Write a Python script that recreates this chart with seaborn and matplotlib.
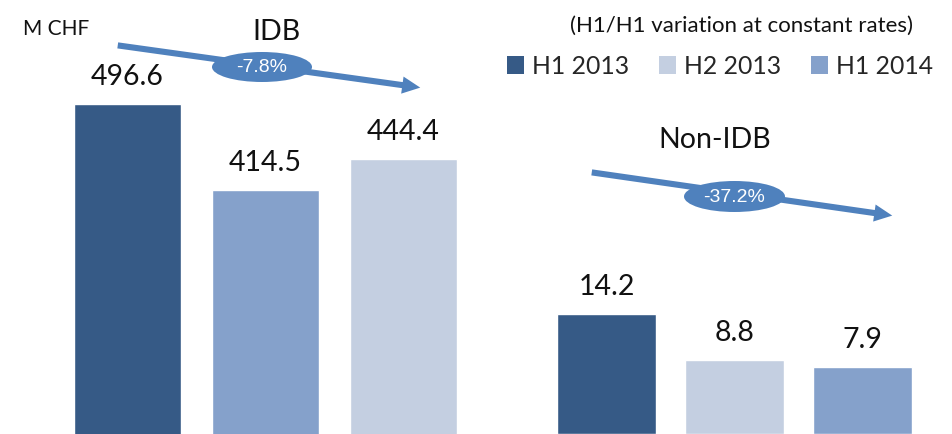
import matplotlib
matplotlib.use("Agg")
import matplotlib.pyplot as plt
from matplotlib.patches import Patch, Ellipse, FancyArrowPatch
import seaborn as sns
import pandas as pd

# ---- data -------------------------------------------------------------
idb_periods = ["H1 2013", "H1 2014", "H2 2013"]
idb_values = [496.6, 414.5, 444.4]

non_idb_periods = ["H1 2013", "H2 2013", "H1 2014"]
non_idb_values = [14.2, 8.8, 7.9]

legend_periods = ["H1 2013", "H2 2013", "H1 2014"]
period_colors = {"H1 2013": "#365A86", "H2 2013": "#C4CFE1", "H1 2014": "#85A1CB"}

idb_change = "-7.8%"
non_idb_change = "-37.2%"

# ---- style ------------------------------------------------------------
sns.set_theme(style="white")
plt.rcParams["font.family"] = ["Lato", "DejaVu Sans"]

W, H = 953, 435
fig = plt.figure(figsize=(W / 100, H / 100), dpi=100)


def fx(px):
    return px / W


def fy(py):
    return 1 - py / H


def draw_group(ax, periods, values, ylim):
    df = pd.DataFrame({"period": periods, "value": values})
    sns.barplot(data=df, x="period", y="value", hue="period", order=periods,
                palette=period_colors, width=0.775, dodge=False, legend=False,
                saturation=1, ax=ax)
    ax.set_xlim(-0.5, len(periods) - 0.5)
    ax.set_ylim(*ylim)
    ax.axis("off")
    for i, v in enumerate(values):
        ax.annotate(f"{v:.1f}", (i, v), xytext=(0, 14.4), textcoords="offset points",
                    ha="center", va="baseline", fontsize=20.5, color="#111111")


ax_idb = fig.add_axes([fx(58.5), 0, fx(414), 1])
draw_group(ax_idb, idb_periods, idb_values, (181.6, 596.9))

ax_non = fig.add_axes([fx(542.5), 0, fx(384), 1])
draw_group(ax_non, non_idb_periods, non_idb_values, (0, 51.5))

# ---- titles and notes ---------------------------------------------------
fig.text(fx(23), fy(35), "M CHF", ha="left", va="baseline", fontsize=15, color="#111111")
fig.text(fx(276), fy(40), "IDB", ha="center", va="baseline", fontsize=20.5, color="#111111")
fig.text(fx(715), fy(148), "Non-IDB", ha="center", va="baseline", fontsize=20.5, color="#111111")
fig.text(fx(742), fy(32), "(H1/H1 variation at constant rates)", ha="center",
         va="baseline", fontsize=16, color="#111111")

handles = [Patch(facecolor=period_colors[p], edgecolor="none", label=p) for p in legend_periods]
fig.legend(handles=handles, loc="center", bbox_to_anchor=(fx(720), fy(67)), ncol=3,
           frameon=False, fontsize=17.8, handlelength=0.7, handleheight=0.7,
           handletextpad=0.33, columnspacing=1.2, borderpad=0)

# ---- trend arrows with change badges -----------------------------------
arrow_blue = "#4F81BD"


def trend(start, end, center, size, label):
    arr = FancyArrowPatch((fx(start[0]), fy(start[1])), (fx(end[0]), fy(end[1])),
                          transform=fig.transFigure,
                          arrowstyle="simple,head_length=0.65,head_width=0.62,tail_width=0.22",
                          mutation_scale=20, color=arrow_blue, lw=0)
    fig.add_artist(arr)
    ell = Ellipse((fx(center[0]), fy(center[1])), fx(size[0]), size[1] / H,
                  transform=fig.transFigure, facecolor=arrow_blue, edgecolor="none")
    fig.add_artist(ell)
    fig.text(fx(center[0]), fy(center[1]), label, ha="center", va="center",
             fontsize=14, color="white", family=["Liberation Sans", "DejaVu Sans"])


trend((115, 46), (423, 89), (262, 68), (100, 30), idb_change)
trend((589, 173), (895, 217), (734.5, 197.5), (101, 31), non_idb_change)

fig.savefig("out.png", dpi=100)
